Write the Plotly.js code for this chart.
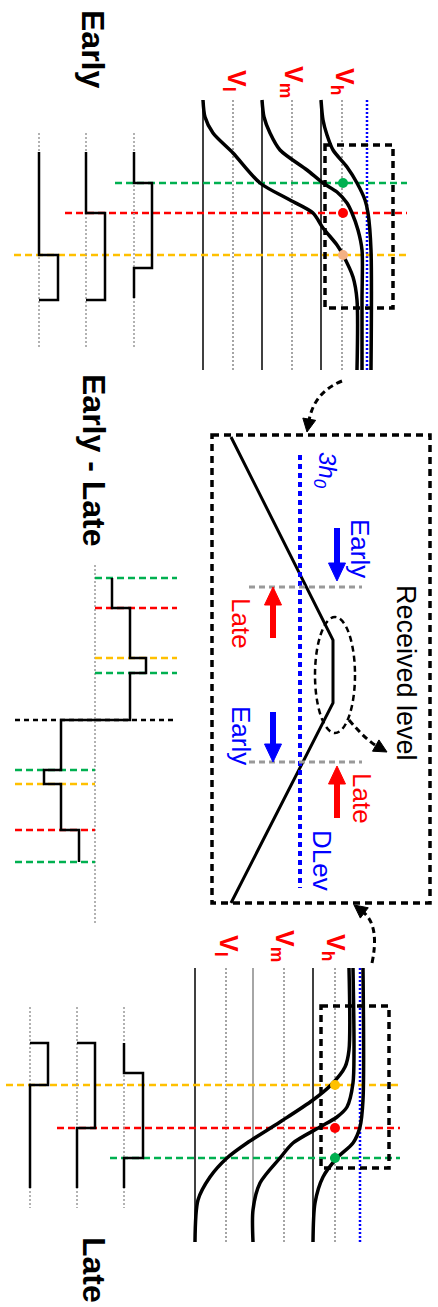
<!DOCTYPE html>
<html><head><meta charset="utf-8">
<script src="https://cdn.plot.ly/plotly-3.0.1.min.js"></script>
<style>html,body{margin:0;padding:0;background:#fff;}#chart{width:438px;height:1307px;}</style>
</head><body><div id="chart"></div>
<script>
// ================= DATA =================
const LEVEL_LABELS = ['V<sub>l</sub>', 'V<sub>m</sub>', 'V<sub>h</sub>'];

// ---- Early panel ----
const EARLY_SPAN_Y = [100, 370];
const EARLY_RAIL_X = [203, 262, 321];
const EARLY_LEVEL_X = [233, 292, 342];
const EARLY_DLEV_X = 367;
const EARLY_LABEL_X = [235, 292, 343];
const EARLY_LABEL_Y = [81, 82, 81];
const EARLY_C1_X = [203, 205, 213, 233, 260, 290, 313, 323, 337, 343, 353, 357, 357];
const EARLY_C1_Y = [100, 117, 133, 153, 183, 200, 213, 228, 245, 255, 277, 300, 370];
const EARLY_C2_X = [262, 264, 270, 280, 307, 323, 337, 347, 352, 358, 362, 362, 362];
const EARLY_C2_Y = [100, 117, 133, 150, 170, 183, 192, 203, 213, 230, 250, 300, 370];
const EARLY_C3_X = [321, 323, 327, 333, 347, 357, 365, 368, 371, 371];
const EARLY_C3_Y = [100, 120, 135, 150, 167, 183, 200, 213, 250, 370];
const EARLY_EVENT_Y = [183, 213, 255];
const EARLY_EVENT_X0 = [115, 65, 14];
const EARLY_EVENT_X1 = 407;
const EARLY_DOT_X = 343;
const EARLY_BOX = [325, 393, 145, 308];
const EARLY_WAVE_BASE_X = [39, 86, 134];
const EARLY_WAVE_BASE_Y = [133, 348];
const EARLY_W1_X = [39, 39, 58, 58, 39];
const EARLY_W1_Y = [152, 255, 255, 300, 300];
const EARLY_W2_X = [86, 86, 105, 105, 86];
const EARLY_W2_Y = [152, 213, 213, 300, 300];
const EARLY_W3_X = [134, 134, 152, 152, 134, 134];
const EARLY_W3_Y = [152, 183, 183, 268, 268, 298];

// ---- Received level panel ----
const MID_BOX = [212, 430, 435, 903];
const RX_X = [231, 333, 333, 231];
const RX_Y = [437, 640, 703, 903];
const MID_DLEV_X = 300;
const MID_DLEV_Y = [455, 888];
const THRESH_Y = [587, 762];
const THRESH_X = [249, 362];
const ELLIPSE = [315, 355, 617, 733];
// direction arrows: [tailX, tailY, headX, headY]
const ARROW_EARLY_1 = [337, 528, 337, 581];
const ARROW_LATE_1 = [273, 638, 273, 587];
const ARROW_EARLY_2 = [273, 712, 273, 762];
const ARROW_LATE_2 = [337, 818, 337, 766];

// ---- Early - Late panel ----
const DIFF_BASE_X = 95;
const DIFF_BASE_Y = [565, 925];
const DIFF_ZERO_Y = 720;
const DIFF_ZERO_X = [15, 175];
const DIFF_POS_Y = [578, 608, 658, 673];
const DIFF_POS_X = [95, 177];
const DIFF_NEG_Y = [770, 784, 830, 862];
const DIFF_NEG_X = [15, 95];
const DIFF_WAVE_X = [112, 112, 130, 130, 146, 146, 130, 130, 61, 61, 44, 44, 61, 61, 79, 79];
const DIFF_WAVE_Y = [578, 608, 608, 658, 658, 673, 673, 720, 720, 770, 770, 784, 784, 830, 830, 862];

// ---- Late panel ----
const LATE_SPAN_Y = [968, 1242];
const LATE_RAIL_X = [195, 253, 313];
const LATE_LEVEL_X = [226, 284, 335];
const LATE_DLEV_X = 360;
const LATE_LABEL_X = [227, 283, 334];
const LATE_LABEL_Y = [946, 946, 947];
const LATE_C1_X = [349, 349, 345, 331, 313, 280, 247, 227, 210, 198, 195];
const LATE_C1_Y = [968, 1050, 1067, 1085, 1100, 1122, 1143, 1158, 1177, 1200, 1242];
const LATE_C2_X = [353, 354, 353, 347, 337, 320, 293, 280, 260, 253, 253];
const LATE_C2_Y = [968, 1050, 1083, 1107, 1117, 1127, 1143, 1158, 1183, 1210, 1242];
const LATE_C3_X = [363, 363, 360, 353, 337, 323, 315, 313];
const LATE_C3_Y = [968, 1100, 1127, 1143, 1158, 1177, 1203, 1242];
const LATE_EVENT_Y = [1085, 1128, 1158];
const LATE_EVENT_X0 = [6, 57, 110];
const LATE_EVENT_X1 = 400;
const LATE_DOT_X = 335;
const LATE_BOX = [321, 389, 1006, 1168];
const LATE_WAVE_BASE_X = [30, 77, 124];
const LATE_WAVE_BASE_Y = [1007, 1208];
const LATE_W1_X = [30, 48, 48, 30, 30];
const LATE_W1_Y = [1043, 1043, 1085, 1085, 1188];
const LATE_W2_X = [77, 95, 95, 77, 77];
const LATE_W2_Y = [1043, 1043, 1128, 1128, 1188];
const LATE_W3_X = [124, 124, 143, 143, 124, 124];
const LATE_W3_Y = [1043, 1073, 1073, 1158, 1158, 1188];

// connector curves: [startX, startY, ctrlX, ctrlY, endX, endY] (end = arrow tip)
const LINK_TOP = [342, 381, 314, 392, 307, 432];
const LINK_BOTTOM = [372, 963, 380, 925, 354, 905];
const LINK_ELLIPSE = [349, 720, 366, 740, 387, 752];

// ================= STYLE =================
const GREEN = '#00B050', RED = '#FF0000', YELLOW = '#FFC000', PEACH = '#F4B183', BLUE = '#0000FF';
const FONT = 'Liberation Sans, Arial, sans-serif';
const traces = [];
const shapes = [];
const annotations = [];

function line(x, y, color, width, dash, spline) {
  traces.push({x, y, type: 'scatter', mode: 'lines', hoverinfo: 'skip',
    line: {color, width, dash: dash || 'solid', shape: spline ? 'spline' : 'linear', smoothing: 0.8}});
}
function dots(x, y, colors) {
  traces.push({x, y, type: 'scatter', mode: 'markers', hoverinfo: 'skip',
    marker: {color: colors, size: 10, line: {width: 0}}});
}
function text(x, y, t, size, color, weight, style) {
  annotations.push({x, y, xref: 'x', yref: 'y', text: t, showarrow: false,
    textangle: 90, font: {family: FONT, size, color, weight: weight || 'normal', style: style || 'normal'}});
}
function head(tipX, tipY, fromX, fromY, color, len, half) {
  const dx = tipX - fromX, dy = tipY - fromY, d = Math.hypot(dx, dy);
  const ux = dx / d, uy = dy / d;
  const bx = tipX - ux * len, by = tipY - uy * len;
  const p1 = [bx - uy * half, by + ux * half], p2 = [bx + uy * half, by - ux * half];
  shapes.push({type: 'path', xref: 'x', yref: 'y',
    path: `M ${tipX} ${tipY} L ${p1[0]} ${p1[1]} L ${p2[0]} ${p2[1]} Z`,
    fillcolor: color, line: {color, width: 1}});
  return [bx + ux * 2, by + uy * 2];
}
function arrow(a, color) {
  const base = head(a[2], a[3], a[0], a[1], color, 18, 8.5);
  line([a[0], base[0]], [a[1], base[1]], color, 6);
}
function link(c) {
  const base = head(c[4], c[5], c[2], c[3], '#000', 13, 6.5);
  shapes.push({type: 'path', xref: 'x', yref: 'y',
    path: `M ${c[0]} ${c[1]} Q ${c[2]} ${c[3]} ${base[0]} ${base[1]}`,
    line: {color: '#000', width: 3, dash: '6px,4px'}});
}
function box(b, color, width, dash) {
  shapes.push({type: 'rect', xref: 'x', yref: 'y', x0: b[0], x1: b[1], y0: b[2], y1: b[3],
    line: {color, width, dash}});
}
const DOT = '2px,2px';
const DASH = '7px,4px';
const BOXDASH = '7px,5px';

// ---- Early panel ----
EARLY_RAIL_X.forEach(x => line([x, x], EARLY_SPAN_Y, '#000', 1.5));
EARLY_LEVEL_X.forEach(x => line([x, x], EARLY_SPAN_Y, '#888', 1.5, DOT));
line([EARLY_DLEV_X, EARLY_DLEV_X], EARLY_SPAN_Y, BLUE, 2.5, DOT);
const evColsE = [GREEN, RED, YELLOW];
EARLY_EVENT_Y.forEach((y, i) => line([EARLY_EVENT_X0[i], EARLY_EVENT_X1], [y, y], evColsE[i], 2.5, DASH));
EARLY_WAVE_BASE_X.forEach(x => line([x, x], EARLY_WAVE_BASE_Y, '#999', 1.5, DOT));
line(EARLY_W1_X, EARLY_W1_Y, '#000', 2.5);
line(EARLY_W2_X, EARLY_W2_Y, '#000', 2.5);
line(EARLY_W3_X, EARLY_W3_Y, '#000', 2.5);
line(EARLY_C1_X, EARLY_C1_Y, '#000', 3.5, null, true);
line(EARLY_C2_X, EARLY_C2_Y, '#000', 3.5, null, true);
line(EARLY_C3_X, EARLY_C3_Y, '#000', 3.5, null, true);
dots([EARLY_DOT_X, EARLY_DOT_X, EARLY_DOT_X], EARLY_EVENT_Y, [GREEN, RED, PEACH]);
box(EARLY_BOX, '#000', 3.5, BOXDASH);
LEVEL_LABELS.forEach((t, i) => text(EARLY_LABEL_X[i], EARLY_LABEL_Y[i], t, 25, RED, 'bold'));
text(93, 49, 'Early', 32, '#000', 'bold');

// ---- Received level panel ----
box(MID_BOX, '#000', 3.5, BOXDASH);
line(RX_X, RX_Y, '#000', 3);
line([MID_DLEV_X, MID_DLEV_X], MID_DLEV_Y, BLUE, 4, '5px,4px');
THRESH_Y.forEach(y => line(THRESH_X, [y, y], '#999', 3, '6px,4px'));
shapes.push({type: 'circle', xref: 'x', yref: 'y', x0: ELLIPSE[0], x1: ELLIPSE[1], y0: ELLIPSE[2], y1: ELLIPSE[3],
  line: {color: '#000', width: 2.5, dash: '6px,4px'}});
arrow(ARROW_EARLY_1, BLUE);
arrow(ARROW_LATE_1, RED);
arrow(ARROW_EARLY_2, BLUE);
arrow(ARROW_LATE_2, RED);
link(LINK_TOP);
link(LINK_BOTTOM);
link(LINK_ELLIPSE);
text(406, 673, 'Received level', 27, '#000');
text(360, 548, 'Early', 26, BLUE);
text(241, 623, 'Late', 26, RED);
text(241, 735, 'Early', 26, BLUE);
text(362, 798, 'Late', 26, RED);
text(322, 860, 'DLev', 26, BLUE);
text(326, 470, '3h<sub>0</sub>', 24, BLUE, 'normal', 'italic');

// ---- Early - Late panel ----
line([DIFF_BASE_X, DIFF_BASE_X], DIFF_BASE_Y, '#999', 1.5, DOT);
line(DIFF_ZERO_X, [DIFF_ZERO_Y, DIFF_ZERO_Y], '#000', 2.5, '5px,4px');
const posCols = [GREEN, RED, YELLOW, GREEN];
const negCols = [GREEN, YELLOW, RED, GREEN];
DIFF_POS_Y.forEach((y, i) => line(DIFF_POS_X, [y, y], posCols[i], 2.5, DASH));
DIFF_NEG_Y.forEach((y, i) => line(DIFF_NEG_X, [y, y], negCols[i], 2.5, DASH));
line(DIFF_WAVE_X, DIFF_WAVE_Y, '#000', 2.5);
text(94, 460, 'Early - Late', 32, '#000', 'bold');

// ---- Late panel ----
const railCols = ['#000', '#888', '#000'];
LATE_RAIL_X.forEach((x, i) => line([x, x], LATE_SPAN_Y, railCols[i], 1.5));
LATE_LEVEL_X.forEach(x => line([x, x], LATE_SPAN_Y, '#888', 1.5, DOT));
line([LATE_DLEV_X, LATE_DLEV_X], LATE_SPAN_Y, BLUE, 2.5, DOT);
const evColsL = [YELLOW, RED, GREEN];
LATE_EVENT_Y.forEach((y, i) => line([LATE_EVENT_X0[i], LATE_EVENT_X1], [y, y], evColsL[i], 2.5, DASH));
LATE_WAVE_BASE_X.forEach(x => line([x, x], LATE_WAVE_BASE_Y, '#999', 1.5, DOT));
line(LATE_W1_X, LATE_W1_Y, '#000', 2.5);
line(LATE_W2_X, LATE_W2_Y, '#000', 2.5);
line(LATE_W3_X, LATE_W3_Y, '#000', 2.5);
line(LATE_C1_X, LATE_C1_Y, '#000', 3.5, null, true);
line(LATE_C2_X, LATE_C2_Y, '#000', 3.5, null, true);
line(LATE_C3_X, LATE_C3_Y, '#000', 3.5, null, true);
dots([LATE_DOT_X, LATE_DOT_X, LATE_DOT_X], LATE_EVENT_Y, [YELLOW, RED, GREEN]);
box(LATE_BOX, '#000', 3.5, BOXDASH);
LEVEL_LABELS.forEach((t, i) => text(LATE_LABEL_X[i], LATE_LABEL_Y[i], t, 25, RED, 'bold'));
text(94, 1270, 'Late', 32, '#000', 'bold');

const layout = {
  width: 438, height: 1307,
  margin: {l: 0, r: 0, t: 0, b: 0, pad: 0},
  paper_bgcolor: '#fff', plot_bgcolor: '#fff',
  showlegend: false,
  xaxis: {range: [0, 438], visible: false, fixedrange: true},
  yaxis: {range: [1307, 0], visible: false, fixedrange: true},
  shapes, annotations
};
Plotly.newPlot('chart', traces, layout, {displayModeBar: false});
</script></body></html>
